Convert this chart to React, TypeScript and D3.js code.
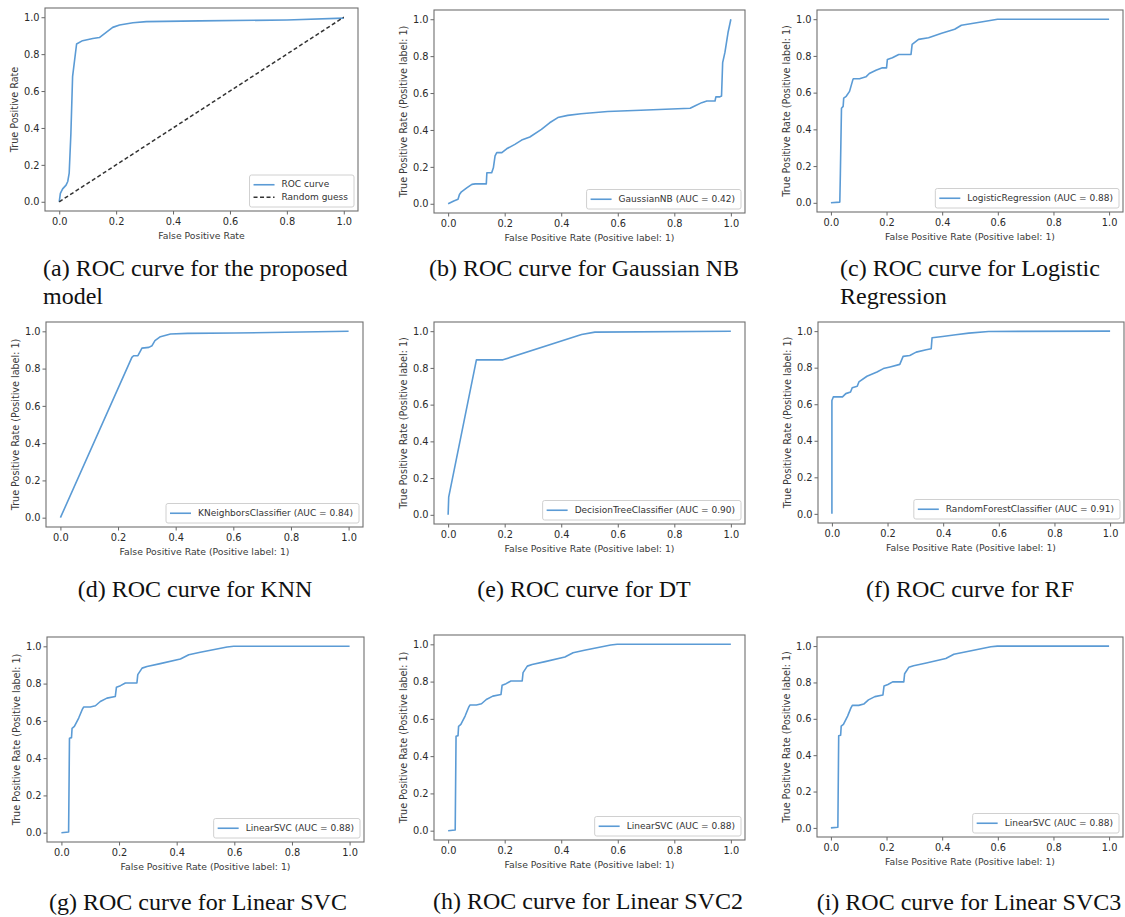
import React, { useEffect, useRef } from "react";
import * as d3 from "d3";

// tick values shared by both axes of every panel
const TICKS = [0, 0.2, 0.4, 0.6, 0.8, 1.0];

// (a) proposed model
const proposedFpr = [0, 0.004, 0.012, 0.024, 0.03, 0.035, 0.041, 0.047, 0.061, 0.082, 0.118, 0.141, 0.165, 0.188, 0.212, 0.259, 0.306, 0.494, 0.8, 1.0];
const proposedTpr = [0, 0.045, 0.07, 0.09, 0.11, 0.155, 0.37, 0.68, 0.855, 0.873, 0.885, 0.89, 0.918, 0.945, 0.958, 0.97, 0.976, 0.98, 0.985, 0.995];
const chanceFpr = [0, 1];
const chanceTpr = [0, 1];

// (b) Gaussian NB
const gnbFpr = [0, 0.02, 0.035, 0.04, 0.047, 0.067, 0.084, 0.096, 0.135, 0.137, 0.154, 0.16, 0.166, 0.172, 0.19, 0.207, 0.236, 0.26, 0.289, 0.33, 0.359, 0.388, 0.423, 0.47, 0.564, 0.681, 0.856, 0.874, 0.897, 0.915, 0.944, 0.947, 0.961, 0.967, 0.971, 0.979, 0.99, 1.0];
const gnbTpr = [0, 0.015, 0.024, 0.05, 0.065, 0.087, 0.105, 0.108, 0.108, 0.168, 0.168, 0.195, 0.259, 0.277, 0.277, 0.298, 0.322, 0.345, 0.362, 0.403, 0.439, 0.467, 0.479, 0.488, 0.5, 0.507, 0.518, 0.531, 0.548, 0.557, 0.557, 0.579, 0.579, 0.584, 0.765, 0.82, 0.928, 1.0];

// (c) Logistic Regression
const lrFpr = [0, 0.032, 0.034, 0.038, 0.044, 0.046, 0.055, 0.067, 0.079, 0.081, 0.103, 0.126, 0.138, 0.162, 0.185, 0.2, 0.203, 0.221, 0.244, 0.288, 0.292, 0.315, 0.351, 0.398, 0.445, 0.469, 0.54, 0.599, 1.0];
const lrTpr = [0, 0.004, 0.159, 0.515, 0.525, 0.57, 0.58, 0.607, 0.671, 0.676, 0.676, 0.686, 0.704, 0.722, 0.735, 0.735, 0.781, 0.79, 0.808, 0.808, 0.863, 0.89, 0.899, 0.923, 0.945, 0.967, 0.985, 1.0, 1.0];

// (d) KNN
const knnFpr = [0, 0.248, 0.254, 0.269, 0.283, 0.307, 0.318, 0.328, 0.347, 0.382, 0.441, 0.604, 1.0];
const knnTpr = [0, 0.86, 0.869, 0.869, 0.91, 0.914, 0.923, 0.95, 0.971, 0.986, 0.989, 0.991, 1.0];

// (e) Decision Tree
const dtFpr = [0, 0.002, 0.1, 0.194, 0.472, 0.519, 1.0];
const dtTpr = [0, 0.096, 0.844, 0.844, 0.982, 0.995, 1.0];

// (f) Random Forest
const rfFpr = [0, 0, 0.005, 0.038, 0.05, 0.067, 0.073, 0.091, 0.097, 0.126, 0.162, 0.185, 0.209, 0.244, 0.256, 0.28, 0.303, 0.339, 0.357, 0.36, 0.398, 0.445, 0.492, 0.563, 1.0];
const rfTpr = [0, 0.62, 0.64, 0.64, 0.658, 0.667, 0.69, 0.698, 0.722, 0.753, 0.776, 0.795, 0.804, 0.818, 0.862, 0.867, 0.885, 0.898, 0.904, 0.964, 0.971, 0.98, 0.989, 0.998, 1.0];

// (g)(h)(i) Linear SVC
const svcFpr = [0, 0.025, 0.028, 0.035, 0.037, 0.045, 0.06, 0.072, 0.077, 0.1, 0.118, 0.135, 0.158, 0.187, 0.191, 0.205, 0.222, 0.262, 0.265, 0.28, 0.297, 0.343, 0.413, 0.442, 0.482, 0.575, 0.598, 1.0];
const svcTpr = [0, 0.004, 0.507, 0.51, 0.56, 0.57, 0.615, 0.66, 0.674, 0.674, 0.681, 0.704, 0.722, 0.731, 0.781, 0.789, 0.803, 0.803, 0.848, 0.883, 0.892, 0.907, 0.932, 0.955, 0.968, 0.996, 1.0, 1.0];

const SHORT_X = "False Positive Rate";
const SHORT_Y = "True Positive Rate";
const LONG_X = "False Positive Rate (Positive label: 1)";
const LONG_Y = "True Positive Rate (Positive label: 1)";

const panels = [
  { fpr: proposedFpr, tpr: proposedTpr, label: "ROC curve", chance: true, xLabel: SHORT_X, yLabel: SHORT_Y, caption: ["(a) ROC curve for the proposed", "model"] },
  { fpr: gnbFpr, tpr: gnbTpr, label: "GaussianNB (AUC = 0.42)", chance: false, xLabel: LONG_X, yLabel: LONG_Y, caption: ["(b) ROC curve for Gaussian NB"] },
  { fpr: lrFpr, tpr: lrTpr, label: "LogisticRegression (AUC = 0.88)", chance: false, xLabel: LONG_X, yLabel: LONG_Y, caption: ["(c) ROC curve for Logistic", "Regression"] },
  { fpr: knnFpr, tpr: knnTpr, label: "KNeighborsClassifier (AUC = 0.84)", chance: false, xLabel: LONG_X, yLabel: LONG_Y, caption: ["(d) ROC curve for KNN"] },
  { fpr: dtFpr, tpr: dtTpr, label: "DecisionTreeClassifier (AUC = 0.90)", chance: false, xLabel: LONG_X, yLabel: LONG_Y, caption: ["(e) ROC curve for DT"] },
  { fpr: rfFpr, tpr: rfTpr, label: "RandomForestClassifier (AUC = 0.91)", chance: false, xLabel: LONG_X, yLabel: LONG_Y, caption: ["(f) ROC curve for RF"] },
  { fpr: svcFpr, tpr: svcTpr, label: "LinearSVC (AUC = 0.88)", chance: false, xLabel: LONG_X, yLabel: LONG_Y, caption: ["(g) ROC curve for Linear SVC"] },
  { fpr: svcFpr, tpr: svcTpr, label: "LinearSVC (AUC = 0.88)", chance: false, xLabel: LONG_X, yLabel: LONG_Y, caption: ["(h) ROC curve for Linear SVC2"] },
  { fpr: svcFpr, tpr: svcTpr, label: "LinearSVC (AUC = 0.88)", chance: false, xLabel: LONG_X, yLabel: LONG_Y, caption: ["(i) ROC curve for Linear SVC3"] },
];

// axes boxes [left, top, right, bottom] and caption placement (x, baseline, anchor)
const layout = [
  { box: [45, 8, 358, 211], cap: [43, 276, "start"] },
  { box: [434, 10, 745, 213], cap: [584, 276, "middle"] },
  { box: [817, 10, 1123, 212], cap: [840, 276, "start"] },
  { box: [46, 322, 363, 527], cap: [195, 597, "middle"] },
  { box: [434, 322, 745, 524], cap: [584, 597, "middle"] },
  { box: [818, 322, 1124, 523], cap: [970, 597, "middle"] },
  { box: [47, 637, 364, 842], cap: [198, 910, "middle"] },
  { box: [434, 635, 745, 840], cap: [588, 909, "middle"] },
  { box: [817, 637, 1123, 837], cap: [969, 910, "middle"] },
];

const W = 1125;
const H = 917;
const BLUE = "#5b9bd5";
const SANS = "'DejaVu Sans', sans-serif";
const SERIF = "'Liberation Serif', 'Times New Roman', serif";

export default function App() {
  const ref = useRef<SVGSVGElement>(null);

  useEffect(() => {
    const svg = d3.select(ref.current);
    svg.selectAll("*").remove();

    panels.forEach((p, i) => {
      const [l, t, r, b] = layout[i].box as number[];
      const g = svg.append("g");

      const x = d3.scaleLinear().domain([-0.05, 1.05]).range([l, r]);
      const y = d3.scaleLinear().domain([-0.05, 1.05]).range([b, t]);

      // axes
      const xAxis = g
        .append("g")
        .attr("transform", `translate(0,${b})`)
        .call(d3.axisBottom(x).tickValues(TICKS).tickFormat(d3.format(".1f")).tickSize(3.5).tickPadding(3.5));
      const yAxis = g
        .append("g")
        .attr("transform", `translate(${l},0)`)
        .call(d3.axisLeft(y).tickValues(TICKS).tickFormat(d3.format(".1f")).tickSize(3.5).tickPadding(2));
      [xAxis, yAxis].forEach((a) => {
        a.select(".domain").remove();
        a.selectAll(".tick line").attr("stroke", "#555").attr("stroke-width", 0.9);
        a.selectAll(".tick text").attr("fill", "#2a2a2a").style("font-family", SANS).style("font-size", "9.8px");
      });

      g.append("text")
        .attr("x", (l + r) / 2)
        .attr("y", b + 25)
        .attr("text-anchor", "middle")
        .attr("dominant-baseline", "middle")
        .style("font-family", SANS)
        .style("font-size", "9.3px")
        .attr("fill", "#3a3a3a")
        .text(p.xLabel);

      g.append("text")
        .attr("transform", `translate(${l - 30},${(t + b) / 2}) rotate(-90)`)
        .attr("text-anchor", "middle")
        .attr("dominant-baseline", "middle")
        .style("font-family", SANS)
        .style("font-size", "9.6px")
        .attr("fill", "#3a3a3a")
        .text(p.yLabel);

      const line = d3
        .line<number>()
        .x((_, k) => x(p.fpr[k]))
        .y((d) => y(d));

      g.append("path")
        .attr("d", line(p.tpr))
        .attr("fill", "none")
        .attr("stroke", BLUE)
        .attr("stroke-width", 1.6)
        .attr("stroke-linejoin", "round");

      if (p.chance) {
        const chance = d3
          .line<number>()
          .x((_, k) => x(chanceFpr[k]))
          .y((d) => y(d));
        g.append("path")
          .attr("d", chance(chanceTpr))
          .attr("fill", "none")
          .attr("stroke", "#333")
          .attr("stroke-width", 1.5)
          .attr("stroke-dasharray", "4,2.5");
      }

      // frame
      g.append("rect")
        .attr("x", l)
        .attr("y", t)
        .attr("width", r - l)
        .attr("height", b - t)
        .attr("fill", "none")
        .attr("stroke", "#6f6f6f")
        .attr("stroke-width", 1.1);

      // legend (lower right)
      const entries = p.chance
        ? [{ text: p.label, color: BLUE, dash: null }, { text: "Random guess", color: "#333", dash: "4,2.5" }]
        : [{ text: p.label, color: BLUE, dash: null }];
      const lg = g.append("g");
      const rowH = 12.5;
      const texts = entries.map((e, k) =>
        lg
          .append("text")
          .attr("y", k * rowH)
          .attr("dominant-baseline", "middle")
          .style("font-family", SANS)
          .style("font-size", "9px")
          .attr("fill", "#333")
          .text(e.text)
      );
      const maxW = d3.max(texts, (s) => (s.node() as SVGTextElement).getComputedTextLength()) || 0;
      const padX = 4;
      const handle = 21;
      const gap = 7;
      const lw = padX + handle + gap + maxW + padX + 2;
      const lh = entries.length * rowH + 7;
      const lx = r - 4 - lw;
      const ly = b - 4 - lh;
      lg.insert("rect", ":first-child")
        .attr("x", 0)
        .attr("y", -rowH / 2 - 3.5)
        .attr("width", lw)
        .attr("height", lh)
        .attr("rx", 2)
        .attr("fill", "white")
        .attr("fill-opacity", 0.8)
        .attr("stroke", "#d0d0d0")
        .attr("stroke-width", 1);
      entries.forEach((e, k) => {
        const hl = lg
          .append("line")
          .attr("x1", padX)
          .attr("x2", padX + handle)
          .attr("y1", k * rowH)
          .attr("y2", k * rowH)
          .attr("stroke", e.color)
          .attr("stroke-width", 1.6);
        if (e.dash) hl.attr("stroke-dasharray", e.dash);
      });
      texts.forEach((s) => s.attr("x", padX + handle + gap));
      lg.attr("transform", `translate(${lx},${ly + rowH / 2 + 3.5})`);

      // caption
      const [cx, cy, anchor] = layout[i].cap as [number, number, string];
      p.caption.forEach((c, k) => {
        svg
          .append("text")
          .attr("x", cx)
          .attr("y", cy + k * 28)
          .attr("text-anchor", anchor)
          .style("font-family", SERIF)
          .style("font-size", "24px")
          .attr("fill", "#111")
          .text(c);
      });
    });
  }, []);

  return (
    <svg
      ref={ref}
      width={W}
      height={H}
      style={{ position: "absolute", left: 0, top: 0, background: "white" }}
    />
  );
}
